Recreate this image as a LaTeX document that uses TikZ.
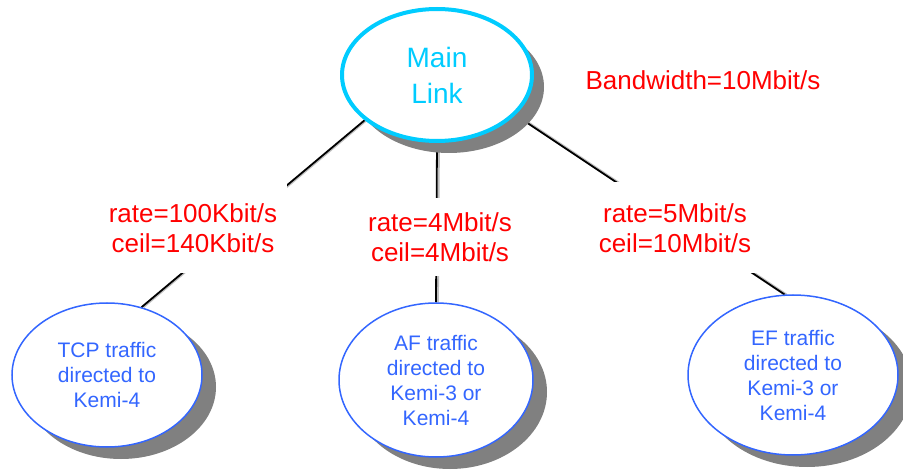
\documentclass[tikz,border=0pt]{standalone}
\usepackage{fontspec}
\setmainfont{Liberation Sans}
\usetikzlibrary{shapes.geometric}
\usetikzlibrary{shadows}
\usetikzlibrary{backgrounds}
\definecolor{linkcyan}{RGB}{0,204,255}
\definecolor{classblue}{RGB}{51,102,255}
\tikzset{mainlink/.style = {ellipse, draw=linkcyan, line width=4pt, fill=white,
                            text=linkcyan, align=center, inner sep=0pt,
                            minimum width=190pt, minimum height=132pt,
                            font=\fontsize{28}{36}\selectfont,
                            drop shadow={shadow xshift=12pt, shadow yshift=-12pt,
                                         fill=gray, opacity=1}},
         class/.style = {ellipse, draw=classblue, line width=1.5pt, fill=white,
                         text=classblue, align=center, inner sep=0pt,
                         font=\fontsize{21}{25}\selectfont,
                         drop shadow={shadow xshift=14pt, shadow yshift=-12pt,
                                      fill=gray, opacity=1}},
         rate/.style = {fill=white, text=red, align=center, inner xsep=10pt,
                        font=\fontsize{26}{30}\selectfont},
         link/.style = {line width=1.8pt}}

\begin{document}
\begin{tikzpicture}[x=1pt, y=-1pt]
      \useasboundingbox (0, 0) rectangle (903, 470);

      \node [mainlink] (main) at (437, 75) {Main\\Link};
      \node [class, minimum width=190pt, minimum height=144pt] (tcp) at (107, 375)
            {TCP traffic\\directed to\\Kemi-4};
      \node [class, minimum width=194pt, minimum height=154pt] (af) at (436, 380)
            {AF traffic\\directed to\\Kemi-3 or\\Kemi-4};
      \node [class, minimum width=210pt, minimum height=160pt] (ef) at (793, 375)
            {EF traffic\\directed to\\Kemi-3 or\\Kemi-4};

      \begin{scope}[on background layer]
        \foreach \from/\to in {main.212/tcp.63, main.270/af.90, main.333/ef.96}
        {
          \draw [link, gray!50, transform canvas={xshift=2pt}] (\from) -- (\to);
          \draw [link] (\from) -- (\to);
        }
      \end{scope}

      \node [rate, minimum height=90pt] (tcprate) at (193, 228)
            {rate=100Kbit/s\\ceil=140Kbit/s};
      \node [rate, minimum height=78pt] (afrate) at (440, 237)
            {rate=4Mbit/s\\ceil=4Mbit/s};
      \node [rate, minimum height=91pt] (efrate) at (675, 228)
            {rate=5Mbit/s\\ceil=10Mbit/s};

      \node [text=red, font=\fontsize{26}{30}\selectfont] (bandwidth) at (703, 80)
            {Bandwidth=10Mbit/s};
    \end{tikzpicture}
\end{document}
